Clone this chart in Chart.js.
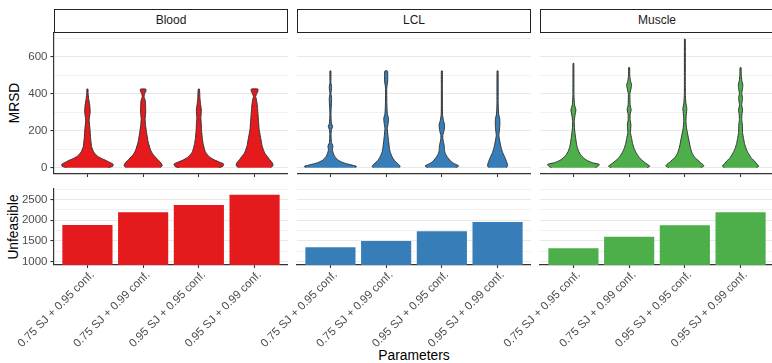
<!DOCTYPE html>
<html lang="en">
<head>
<meta charset="UTF-8">
<title>MRSD and unfeasible counts by parameters</title>
<script src="https://cdn.jsdelivr.net/npm/chart.js"></script>
<style>
    body {
        margin: 0;
        background: #fff;
        font-family: "Liberation Sans", Arial, sans-serif;
    }

    #figure {
        position: relative;
        width: 772px;
        height: 363px;
        overflow: hidden;
    }

    canvas {
        position: absolute;
    }

    .strip {
        position: absolute;
        top: 9px;
        height: 24px;
        box-sizing: border-box;
        border: 1.5px solid #222;
        background: #fff;
        color: #1a1a1a;
        font-size: 12px;
        line-height: 21px;
        text-align: center;
    }

    .title {
        position: absolute;
        font-size: 13.8px;
        color: #000;
        white-space: nowrap;
        transform: translate(-50%, -50%);
    }

    .title.vertical {
        transform: translate(-50%, -50%) rotate(-90deg);
    }
</style>
</head>
<body>
<div id="figure">
    <div class="title vertical" style="left:14px; top:103px;">MRSD</div>
    <div class="title vertical" style="left:13px; top:227px;">Unfeasible</div>
    <div class="title" style="left:414px; top:355px;">Parameters</div>
</div>

<script>
    // ---- data ----
    const tissues = ['Blood', 'LCL', 'Muscle'];
    const params = ['0.75 SJ + 0.95 conf.', '0.75 SJ + 0.99 conf.', '0.95 SJ + 0.95 conf.', '0.95 SJ + 0.99 conf.'];
    const tissueColors = ['#E41A1C', '#377EB8', '#4DAF4A'];

    const mrsdTicks = [0, 200, 400, 600];
    const unfeasibleTicks = [1000, 1500, 2000, 2500];

    // number of unfeasible cases per parameter set
    const unfeasibleBlood = [1885, 2195, 2370, 2615];
    const unfeasibleLCL = [1350, 1500, 1735, 1960];
    const unfeasibleMuscle = [1325, 1600, 1880, 2195];

    // violin outlines: MRSD levels and the half width of the density at each level
    const bloodLevels = [
        [0, 8, 20, 30, 41, 50, 59, 68, 86, 113, 158, 212, 258, 285, 303, 339, 375, 405, 425],
        [0, 10, 20, 32, 45, 59, 75, 95, 140, 195, 235, 267, 300, 330, 360, 385, 400, 412, 425],
        [0, 7, 20, 30, 41, 55, 68, 86, 104, 130, 158, 195, 230, 270, 312, 340, 375, 425],
        [0, 11, 20, 29, 45, 59, 77, 95, 120, 150, 180, 212, 250, 285, 320, 348, 370, 384, 400, 412, 425]
    ];
    const bloodWidths = [
        [21, 25.5, 25.7, 22, 18, 14, 11, 9, 6.2, 4.2, 3.2, 2.5, 1.7, 2.4, 2.8, 2.3, 1.2, 0.6, 0.6],
        [17, 19.2, 18.5, 17, 14.5, 12, 9.5, 7.5, 5, 3.3, 2.3, 2, 2.6, 2.5, 2.2, 0.9, 1.5, 2.7, 2.7],
        [20, 24, 25, 21, 16, 11.5, 9, 6.5, 5.5, 4.3, 3.5, 2.8, 2.5, 2, 2.5, 1.8, 1.1, 0.6],
        [16, 18.5, 18.3, 17.5, 15, 13, 10.5, 9, 7.5, 6.5, 5.5, 4.5, 4, 3.5, 3, 2.5, 1.8, 1.1, 2.2, 3.3, 3.3]
    ];
    const lclLevels = [
        [0, 7, 14, 22, 29, 40, 50, 62, 77, 95, 105, 113, 122, 135, 180, 205, 222, 240, 290, 375, 400, 434, 460, 523],
        [0, 7, 15, 23, 35, 50, 65, 86, 110, 140, 175, 212, 240, 267, 290, 350, 430, 470, 500, 523],
        [0, 9, 16, 23, 35, 47, 62, 77, 95, 113, 130, 155, 176, 200, 230, 255, 290, 430, 523],
        [0, 8, 14, 25, 41, 60, 77, 100, 122, 150, 176, 210, 235, 262, 290, 350, 523]
    ];
    const lclWidths = [
        [25, 26.3, 22, 16, 12, 8, 6, 4.2, 3, 2, 2.2, 2.5, 2.2, 1, 0.6, 1, 2.2, 1, 0.5, 1.2, 0.5, 1.2, 0.5, 0.5],
        [12.5, 14.2, 13, 11.5, 9, 7, 5.5, 4, 3.2, 2.5, 1.8, 1.2, 2, 2.4, 1.2, 0.7, 0.6, 1.6, 1.6, 1.3],
        [14, 17, 15, 12, 9, 7, 5, 3.5, 2.6, 2.6, 2, 1, 1, 2.2, 2.8, 1.6, 0.6, 0.5, 0.5],
        [8.5, 10, 10, 9.5, 8.5, 7, 5.5, 4, 3, 2, 1.3, 2, 2.3, 2.2, 1.1, 0.6, 0.5]
    ];
    const muscleLevels = [
        [0, 9, 18, 27, 36, 47, 59, 72, 86, 104, 122, 150, 177, 210, 250, 285, 312, 340, 400, 564],
        [0, 8, 14, 25, 36, 50, 68, 86, 104, 130, 158, 190, 230, 260, 290, 312, 340, 400, 430, 447, 470, 500, 541],
        [0, 9, 18, 28, 41, 55, 77, 100, 122, 150, 177, 210, 249, 285, 320, 350, 400, 500, 695],
        [0, 8, 14, 25, 36, 50, 68, 86, 104, 130, 158, 190, 230, 260, 290, 312, 340, 375, 400, 430, 447, 470, 500, 541]
    ];
    const muscleWidths = [
        [22, 25, 26, 19, 15, 11.5, 9, 7, 5.5, 4.2, 3.3, 2.5, 1.8, 1.1, 0.8, 1.6, 2.5, 1.1, 0.5, 0.4],
        [18, 20.8, 19.5, 16.5, 14, 11, 8.5, 6.5, 5, 3.5, 2.5, 1.3, 1.8, 1, 1, 2, 1, 0.8, 2, 2.5, 1.3, 0.6, 0.5],
        [16, 19.2, 18, 15.5, 13, 10, 7.5, 6, 5, 4, 3, 1.8, 1.1, 1.4, 2, 1, 0.5, 0.45, 0.4],
        [16, 18.3, 17.5, 15.5, 14, 11, 9, 7, 5.5, 4, 3, 2, 1.8, 1.2, 1.4, 2, 1.1, 2, 1.2, 2, 2.3, 1.3, 0.7, 0.5]
    ];

    const unfeasible = [unfeasibleBlood, unfeasibleLCL, unfeasibleMuscle];
    const violinLevels = [bloodLevels, lclLevels, muscleLevels];
    const violinWidths = [bloodWidths, lclWidths, muscleWidths];

    // ---- layout ----
    const colLeft = [54, 297, 540];
    const panelW = 234;
    const yAxisW = 54;
    const topRow = { top: 33, height: 141, xAxisH: 12 };
    const bottomRow = { top: 189, height: 76, xAxisH: 90 };
    const padTop = 12;
    const padLeft = 60;
    const densityUnit = 1 / 56; // density width -> category units
    const font = '"Liberation Sans", Arial, sans-serif';

    Chart.defaults.font.family = font;

    const fig = document.getElementById('figure');

    function addCanvas(left, top, width, height) {
        const c = document.createElement('canvas');
        c.width = width;
        c.height = height;
        c.style.left = left + 'px';
        c.style.top = top + 'px';
        fig.appendChild(c);
        return c;
    }

    function addStrip(i) {
        const d = document.createElement('div');
        d.className = 'strip';
        d.style.left = colLeft[i] + 'px';
        d.style.width = panelW + 'px';
        d.textContent = tissues[i];
        fig.appendChild(d);
    }

    function yScale(first, min, max, step, labels) {
        return {
            min: min,
            max: max,
            afterFit: s => { s.width = first ? yAxisW : 0; },
            border: { display: first, color: '#333', width: 1.2 },
            grid: {
                color: '#e8e8e8',
                lineWidth: ctx => (ctx.tick && labels.includes(ctx.tick.value)) ? 1.1 : 0.6,
                drawTicks: first,
                tickLength: 3.5,
                tickWidth: 1.1,
                tickColor: ctx => (ctx.tick && labels.includes(ctx.tick.value)) ? '#333' : 'rgba(0,0,0,0)'
            },
            ticks: {
                display: first,
                stepSize: step,
                includeBounds: false,
                autoSkip: false,
                padding: 3,
                color: '#4d4d4d',
                font: { size: 11.5 },
                callback: v => labels.includes(v) ? v : ''
            }
        };
    }

    function xScale(labelled, height) {
        return {
            type: 'linear',
            min: 0.4,
            max: 4.6,
            offset: false,
            afterFit: s => { s.height = height; },
            border: { display: true, color: '#333', width: 1.2 },
            grid: { offset: false, drawOnChartArea: false, drawTicks: true, tickLength: 3, tickColor: '#333', tickWidth: 1.1 },
            ticks: {
                display: labelled,
                stepSize: 1,
                includeBounds: false,
                autoSkip: false,
                minRotation: 45,
                maxRotation: 45,
                padding: 0,
                labelOffset: 5,
                color: '#4d4d4d',
                font: { size: 11.5 },
                callback: v => params[v - 1]
            }
        };
    }

    function violinOutline(center, levels, widths) {
        const right = levels.map((y, k) => ({ x: center + widths[k] * densityUnit, y: y }));
        const left = levels.map((y, k) => ({ x: center - widths[k] * densityUnit, y: y })).reverse();
        return right.concat(left);
    }

    const baseOptions = {
        responsive: false,
        animation: false,
        events: [],
        plugins: { legend: { display: false }, tooltip: { enabled: false } }
    };

    tissues.forEach((tissue, i) => {
        const first = i === 0;
        addStrip(i);

        // violins of MRSD
        const leftA = first ? yAxisW : 0;
        const c1 = addCanvas(colLeft[i] - leftA, topRow.top - padTop, leftA + panelW, padTop + topRow.height + topRow.xAxisH);
        new Chart(c1, {
            type: 'line',
            data: {
                datasets: params.map((p, k) => ({
                    label: p,
                    data: violinOutline(k + 1, violinLevels[i][k], violinWidths[i][k]),
                    borderColor: '#333',
                    borderWidth: 1,
                    backgroundColor: tissueColors[i],
                    fill: 'shape',
                    pointRadius: 0,
                    tension: 0.15
                }))
            },
            options: Object.assign({}, baseOptions, {
                layout: { padding: { top: padTop, left: 0, right: 0, bottom: 0 } },
                scales: {
                    x: xScale(false, topRow.xAxisH),
                    y: yScale(first, -34, 728, 100, mrsdTicks)
                }
            })
        });

        // bars of unfeasible counts
        const c2 = addCanvas(colLeft[i] - leftA - padLeft, bottomRow.top - padTop, padLeft + leftA + panelW, padTop + bottomRow.height + bottomRow.xAxisH);
        new Chart(c2, {
            type: 'bar',
            data: {
                datasets: [{
                    label: tissue,
                    data: unfeasible[i].map((v, k) => ({ x: k + 1, y: v })),
                    backgroundColor: tissueColors[i],
                    borderWidth: 0,
                    categoryPercentage: 1,
                    barPercentage: 0.9
                }]
            },
            options: Object.assign({}, baseOptions, {
                layout: { padding: { top: padTop, left: padLeft, right: 0, bottom: 0 } },
                scales: {
                    x: xScale(true, bottomRow.xAxisH),
                    y: yScale(first, 920, 2755, 250, unfeasibleTicks)
                }
            })
        });
    });
</script>
</body>
</html>
